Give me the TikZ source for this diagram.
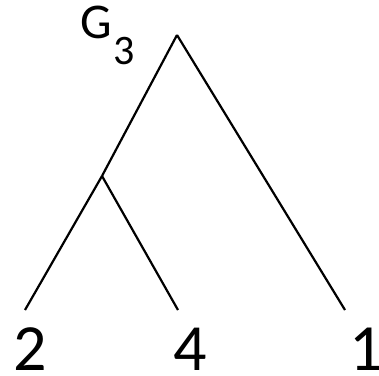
\documentclass[tikz,border=0pt]{standalone}
\usepackage{fontspec}
\setmainfont{Carlito}
\begin{document}
\begin{tikzpicture}[x=1pt,y=-1pt,
  edge/.style={line width=2.2pt},
  leaf/.style={inner sep=0pt,font=\fontsize{66}{66}\selectfont}]
\useasboundingbox (0,0) rectangle (379,375);
\coordinate (root) at (177,35);
\coordinate (mid) at (102,176);
\coordinate (l2) at (25,310);
\coordinate (l4) at (178,310);
\coordinate (l1) at (345,310);
\draw[edge] (root) -- (mid);
\draw[edge] (root) -- (l1);
\draw[edge] (mid) -- (l2);
\draw[edge] (mid) -- (l4);
\node[leaf,anchor=base] (t2) at (30,370) {2};
\node[leaf,anchor=base] (t4) at (190,370) {4};
\node[leaf,anchor=base] (t1) at (366,370) {1};
\node[inner sep=0pt,anchor=base west] (g) at (80,38) {\fontsize{50}{50}\selectfont G\kern2pt\raisebox{-26pt}{\fontsize{42}{42}\selectfont 3}};
\end{tikzpicture}
\end{document}
